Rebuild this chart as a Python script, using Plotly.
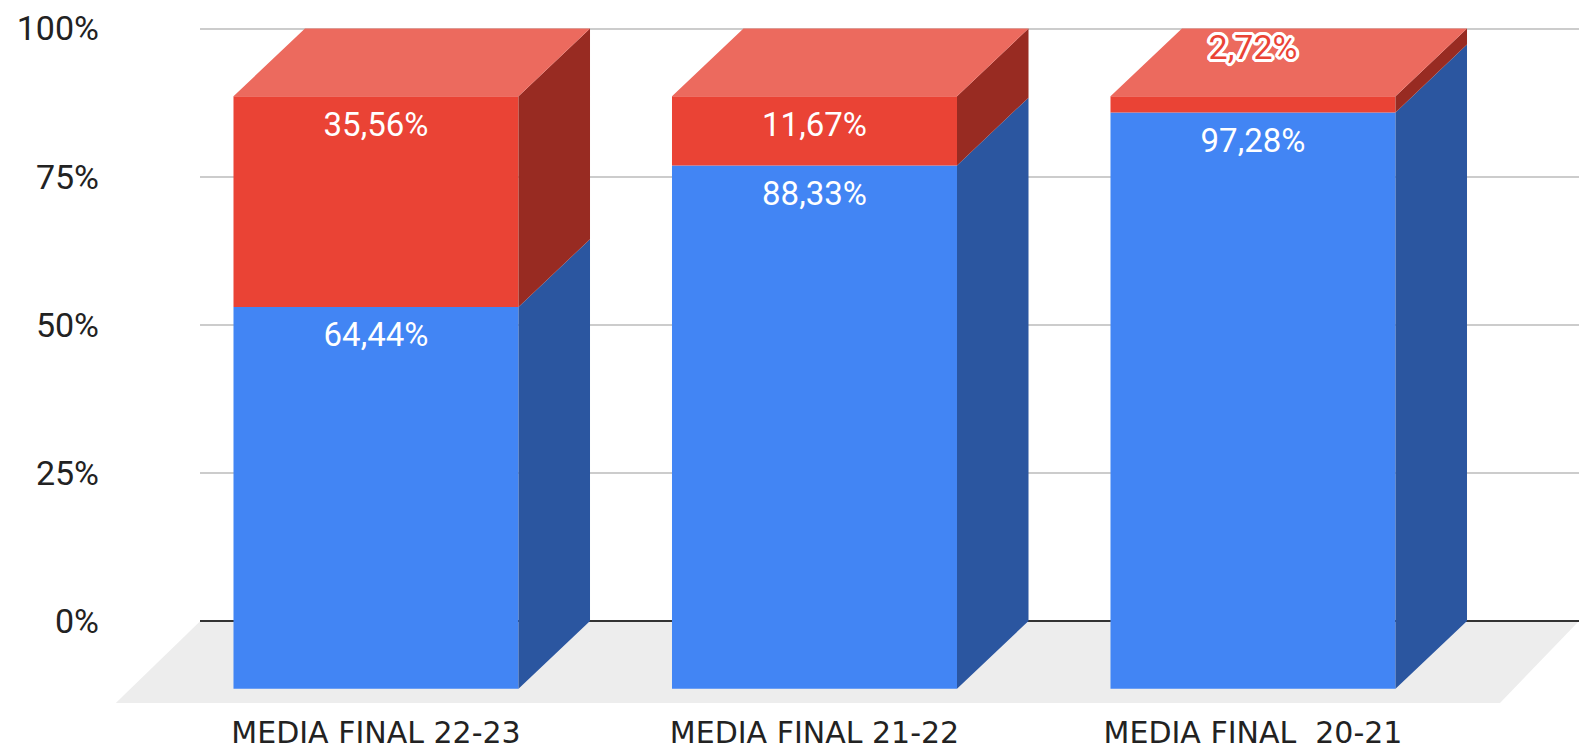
import plotly.graph_objects as go

categories = ["MEDIA FINAL 22-23", "MEDIA FINAL 21-22", "MEDIA FINAL  20-21"]
blue_values = [64.44, 88.33, 97.28]
red_values = [35.56, 11.67, 2.72]
y_ticks = [0, 25, 50, 75, 100]
y_tick_labels = ["0%", "25%", "50%", "75%", "100%"]

BLUE, BLUE_SIDE = "#4285f4", "#2b56a0"
RED, RED_SIDE, RED_TOP = "#ea4335", "#982b22", "#ec6a5e"
FLOOR = "#ededed"
W, H = 1579, 749
PL, PB = 200, 37          # plot area left / bottom margins
PH = H - PB
PX_PER_PCT = 5.925
DEPTH_PX_X, DEPTH_PX_Y = 71.5, 67.8
CAT_PX = 438.5
CAT0_PX = 376
BAR_W = 0.65
DX = DEPTH_PX_X / CAT_PX
DY = DEPTH_PX_Y / PX_PER_PCT
ZERO_PX = 621


def poly(store_x, store_y, pts):
    store_x += [p[0] for p in pts] + [pts[0][0], None]
    store_y += [p[1] for p in pts] + [pts[0][1], None]


xs = list(range(len(categories)))
fig = go.Figure()
fig.add_bar(x=xs, y=blue_values, base=[-DY] * 3, width=BAR_W, marker=dict(color=BLUE, line_width=0), hoverinfo="skip")
fig.add_bar(x=xs, y=red_values, base=[b - DY for b in blue_values], width=BAR_W, marker=dict(color=RED, line_width=0), hoverinfo="skip")

bx, by, rx, ry, tx, ty = [], [], [], [], [], []
for i, (b, r) in enumerate(zip(blue_values, red_values)):
    xr = i + BAR_W / 2
    xl = i - BAR_W / 2
    poly(bx, by, [(xr, -DY), (xr + DX, 0), (xr + DX, b), (xr, b - DY)])
    poly(rx, ry, [(xr, b - DY), (xr + DX, b), (xr + DX, b + r), (xr, b + r - DY)])
    poly(tx, ty, [(xl, b + r - DY), (xr, b + r - DY), (xr + DX, b + r), (xl + DX, b + r)])
for px_, py_, col in [(bx, by, BLUE_SIDE), (rx, ry, RED_SIDE), (tx, ty, RED_TOP)]:
    fig.add_scatter(x=px_, y=py_, mode="lines", fill="toself", fillcolor=col,
                    line=dict(width=0, color=col), hoverinfo="skip", showlegend=False)

fmt = lambda v: f"{v:.2f}".replace(".", ",") + "%"
LABEL_OFF = 31.2 / PX_PER_PCT
lx, ly, lt = [], [], []
for i, (b, r) in enumerate(zip(blue_values, red_values)):
    lx.append(i); ly.append(b - DY - LABEL_OFF); lt.append(fmt(b))
    if r > 5:
        lx.append(i); ly.append(b + r - DY - LABEL_OFF); lt.append(fmt(r))
fig.add_scatter(x=lx, y=ly, text=lt, mode="text", textposition="middle center",
                textfont=dict(family="Roboto", size=33, color="#ffffff"), hoverinfo="skip", showlegend=False)

sx, sy, st = [], [], []
for i, (b, r) in enumerate(zip(blue_values, red_values)):
    if r <= 5:
        sx.append(i); sy.append(b + r - DY + 45.5 / PX_PER_PCT); st.append(fmt(r))
shadow = ",".join(f"{a}px {c}px 0 #fff" for a in (-3, -2, -1, 0, 1, 2, 3) for c in (-3, -2, -1, 0, 1, 2, 3) if a * a + c * c < 13)
fig.add_scatter(x=sx, y=sy, text=st, mode="text", textposition="middle center",
                textfont=dict(family="Roboto", size=34, color=RED, shadow=shadow), hoverinfo="skip", showlegend=False)

# Floor of the 3-D scene, in paper units so it can reach left of the back wall
PW = W - PL
def paper(px, py):
    return (px - PL) / PW, 1 - py / PH
corners = [paper(200.4, ZERO_PX), paper(1579, ZERO_PX), paper(1500, 703), paper(115.8, 703)]
path = "M" + " L".join(f"{a:.5f},{c:.5f}" for a, c in corners) + " Z"

fig.update_layout(
    width=W, height=H, autosize=False,
    margin=dict(l=PL, r=0, t=0, b=PB),
    paper_bgcolor="#ffffff", plot_bgcolor="rgba(0,0,0,0)",
    barmode="overlay", showlegend=False,
    shapes=[dict(type="path", path=path, xref="paper", yref="paper", fillcolor=FLOOR, line_width=0, layer="below")],
    xaxis=dict(range=[(PL - CAT0_PX) / CAT_PX, (W - CAT0_PX) / CAT_PX], tickmode="array", automargin=False,
               tickvals=xs, ticktext=categories, showgrid=False, zeroline=False, showline=False,
               ticks="", tickfont=dict(family="DejaVu Sans", size=30, color="#222222"), fixedrange=True),
    yaxis=dict(range=[(ZERO_PX - PH) / PX_PER_PCT, ZERO_PX / PX_PER_PCT], tickmode="array", automargin=False,
               tickvals=y_ticks, ticktext=y_tick_labels, showgrid=True, gridcolor="#cccccc", gridwidth=2,
               zeroline=True, zerolinecolor="#333333", zerolinewidth=2, showline=False,
               ticks="", ticklabelstandoff=100,
               tickfont=dict(family="Roboto", size=34, color="#222222"), fixedrange=True),
)
fig.write_html("out.html", config=dict(displayModeBar=False),
               post_script="document.documentElement.style.overflow='hidden';document.body.style.margin='0';")
